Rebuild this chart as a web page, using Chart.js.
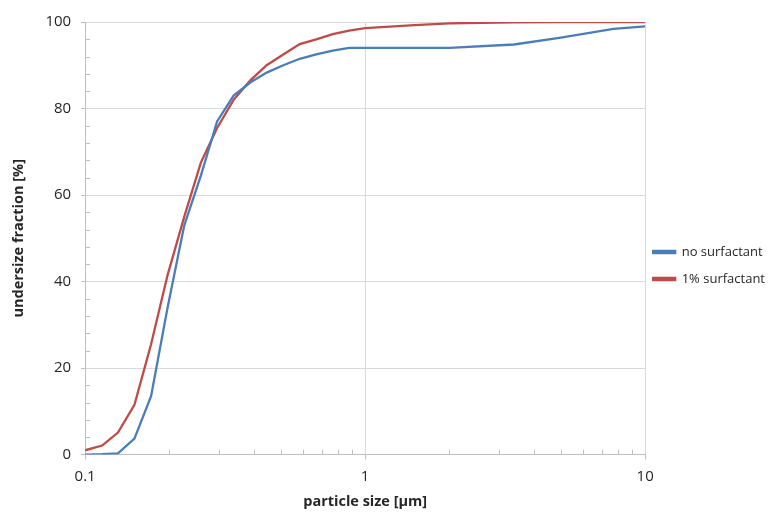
<!DOCTYPE html>
<html>
<head>
<meta charset="utf-8">
<script src="https://cdn.jsdelivr.net/npm/chart.js@4/dist/chart.umd.min.js"></script>
<style>
  html, body { margin: 0; padding: 0; background: #fff; }
  #wrap { width: 779px; height: 512px; }
</style>
</head>
<body>
<div id="wrap"><canvas id="psd"></canvas></div>
<script>
// particle sizes [µm] (shared x values)
const sizes = [0.1, 0.115, 0.131, 0.15, 0.172, 0.197, 0.226, 0.259, 0.296, 0.339, 0.389, 0.445, 0.51, 0.584, 0.669, 0.766, 0.877, 1.0, 1.5, 2.0, 3.4, 5.0, 7.7, 10];
// undersize fraction [%]
const noSurfactant = [0, 0.1, 0.3, 3.7, 13.5, 34, 53, 64.5, 77, 83, 86, 88.3, 90, 91.5, 92.5, 93.4, 94, 94, 94, 94, 94.8, 96.4, 98.4, 99];
const withSurfactant = [1.0, 2.1, 5.1, 11.5, 25.5, 41.5, 55, 67.5, 75.5, 82, 86.5, 90, 92.5, 94.9, 96, 97.2, 98, 98.6, 99.3, 99.7, 99.9, 100, 100, 100];
const seriesNames = ['no surfactant', '1% surfactant'];
const xMajor = [0.1, 1, 10];
const xMinor = [0.2, 0.3, 0.4, 0.5, 0.6, 0.7, 0.8, 0.9, 2, 3, 4, 5, 6, 7, 8, 9];
const yMinor = [4, 8, 12, 16, 24, 28, 32, 36, 44, 48, 52, 56, 64, 68, 72, 76, 84, 88, 92, 96];

const FONT = "'Open Sans', sans-serif";
const gridCol = '#d9d9d9';
const axisCol = '#bfbfbf';

const toPoints = vals => sizes.map((s, i) => ({ x: s, y: vals[i] }));

// small inner tick marks between the labelled ones
const minorTicks = {
    id: 'minorTicks',
    afterDraw(chart) {
        const { ctx, chartArea, scales } = chart;
        ctx.save();
        ctx.strokeStyle = axisCol;
        ctx.lineWidth = 1;
        ctx.beginPath();
        xMinor.forEach(v => {
            const px = Math.round(scales.x.getPixelForValue(v)) + 0.5;
            ctx.moveTo(px, chartArea.bottom);
            ctx.lineTo(px, chartArea.bottom - 5);
        });
        yMinor.forEach(v => {
            const py = Math.round(scales.y.getPixelForValue(v)) + 0.5;
            ctx.moveTo(chartArea.left, py);
            ctx.lineTo(chartArea.left + 5, py);
        });
        ctx.stroke();
        ctx.restore();
    }
};

// nudge the legend a little closer to the plot, like the original
const legendNudge = {
    id: 'legendNudge',
    afterLayout(chart) {
        const lg = chart.legend;
        lg.left -= 6; lg.right -= 6;
        lg.top -= 3; lg.bottom -= 3;
    }
};

new Chart(document.getElementById('psd'), {
    type: 'line',
    data: {
        datasets: [{
            label: seriesNames[0],
            data: toPoints(noSurfactant),
            borderColor: '#4a7ebb',
            backgroundColor: '#4a7ebb',
            borderWidth: 2.3,
            pointRadius: 0,
            tension: 0
        }, {
            label: seriesNames[1],
            data: toPoints(withSurfactant),
            borderColor: '#be4b48',
            backgroundColor: '#be4b48',
            borderWidth: 2.3,
            pointRadius: 0,
            tension: 0
        }]
    },
    options: {
        responsive: true,
        maintainAspectRatio: false,
        animation: false,
        layout: { padding: { top: 22, left: 6, right: -2, bottom: -3 } },
        plugins: {
            tooltip: { enabled: false },
            legend: {
                position: 'right',
                labels: {
                    boxWidth: 22,
                    boxHeight: 2,
                    padding: 14,
                    color: '#262626',
                    font: { family: FONT, size: 13 }
                }
            }
        },
        scales: {
            x: {
                type: 'logarithmic',
                min: 0.1,
                max: 10,
                afterBuildTicks: scale => { scale.ticks = xMajor.map(v => ({ value: v })); },
                ticks: {
                    color: '#262626',
                    padding: 8,
                    maxRotation: 0,
                    font: { family: FONT, size: 15 },
                    callback: v => String(v)
                },
                grid: { color: gridCol, tickColor: axisCol, tickLength: 5 },
                border: { color: axisCol },
                title: {
                    display: true,
                    text: 'particle size [\u00b5m]',
                    color: '#262626',
                    font: { family: FONT, size: 14.5, weight: 'bold' },
                    padding: { top: 0 }
                }
            },
            y: {
                min: 0,
                max: 100,
                ticks: {
                    stepSize: 20,
                    color: '#262626',
                    padding: 10,
                    font: { family: FONT, size: 15 }
                },
                grid: { color: gridCol, tickColor: axisCol, tickLength: 4 },
                border: { color: axisCol },
                title: {
                    display: true,
                    text: 'undersize fraction [%]',
                    color: '#262626',
                    font: { family: FONT, size: 14.5, weight: 'bold' },
                    padding: { bottom: 8 }
                }
            }
        }
    },
    plugins: [minorTicks, legendNudge]
});
</script>
</body>
</html>
